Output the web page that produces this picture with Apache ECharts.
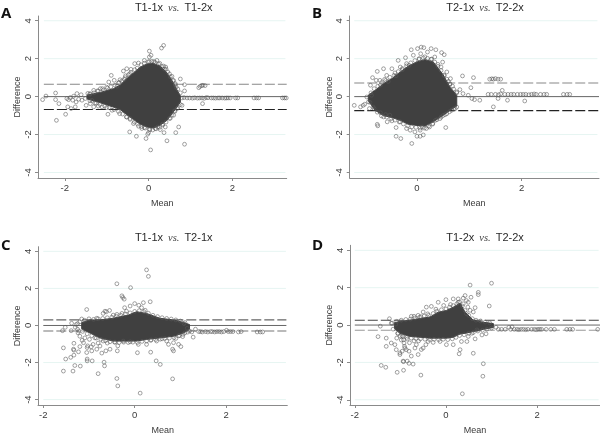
<!DOCTYPE html>
<html><head><meta charset="utf-8">
<style>html,body{margin:0;padding:0;background:#fff}#c{width:600px;height:436px}</style>
<script src="https://cdn.jsdelivr.net/npm/echarts@6/dist/echarts.min.js"></script>
</head><body><div id="c"></div>
<script>
const xTicks=[-2,0,2];
const yTicks=[-4,-2,0,2,4];
const gridValues=[-4,-2,2,4];
const titles=[['T1-1x','T1-2x'],['T2-1x','T2-2x'],['T1-1x','T2-1x'],['T1-2x','T2-2x']];
const letters=['A','B','C','D'];
const refLines=[[0.65,-0.68],[0.72,-0.74],[0.30,-0.30],[0.26,-0.28]];
const refSpan=[[-2.5,3.3],[-1.2,3.48],[-2,3.32],[-2,3.38]];
const coreA=[[-1.47,.08,-.12],[-1.15,.22,-.32],[-.84,.42,-.55],[-.68,.6,-.68],[-.52,.95,-.95],[-.36,1.25,-1.2],[-.2,1.55,-1.45],[-.04,1.72,-1.6],[.12,1.75,-1.65],[.28,1.6,-1.5],[.44,1.25,-1.25],[.56,.85,-.9],[.68,.35,-.55],[.76,.05,-.3]];
const coreB=[[-.93,.08,-.22],[-.8,.33,-.72],[-.64,.68,-1.0],[-.48,.95,-1.1],[-.32,1.3,-1.25],[-.17,1.6,-1.45],[0,1.83,-1.52],[.15,1.95,-1.55],[.31,1.83,-1.33],[.5,1.15,-.98],[.63,.5,-.72],[.76,.07,-.5]];
const coreC=[[-1.16,.15,-.18],[-.98,.3,-.4],[-.76,.3,-.67],[-.47,.39,-.84],[-.14,.56,-.84],[.04,.74,-.84],[.26,.65,-.75],[.55,.39,-.67],[.85,.3,-.58],[1.07,.16,-.4],[1.2,.05,-.2]];
const coreD=[[-1.13,.12,-.18],[-1.01,.2,-.44],[-.79,.26,-.61],[-.57,.35,-.65],[-.35,.43,-.7],[-.17,.69,-.7],[.01,.78,-.7],[.16,.96,-.65],[.31,1.17,-.48],[.42,.69,-.44],[.6,.26,-.35],[.82,.15,-.23],[1.04,.08,-.13]];
const edgeA=[[-1.4,.16],[-1.3,.2],[-1.2,.3],[-1.08,.34],[-.98,.45],[-.9,.52],[-.8,.6],[-.72,.72],[-.64,.82],[-.56,1.0],[-.48,1.15],[-.42,1.28],[-.33,1.42],[-.27,1.5],[-.18,1.68],[-.1,1.76],[-.01,1.83],[.08,1.86],[.16,1.8],[.24,1.72],[.32,1.58],[.38,1.45],[.46,1.3],[.52,1.05],[.58,.85],[.64,.62],[.7,.4],[.76,.2],[-1.4,-.22],[-1.28,-.34],[-1.16,-.42],[-1.05,-.5],[-.94,-.58],[-.82,-.68],[-.72,-.78],[-.62,-.92],[-.52,-1.08],[-.44,-1.2],[-.34,-1.34],[-.26,-1.45],[-.17,-1.58],[-.08,-1.66],[.02,-1.72],[.1,-1.76],[.18,-1.7],[.26,-1.62],[.34,-1.5],[.42,-1.34],[.5,-1.15],[.56,-.98],[.63,-.78],[.7,-.6],[.76,-.42]];
const edgeB=[[-.88,.2],[-.82,.42],[-.75,.55],[-.68,.74],[-.6,.85],[-.52,1.02],[-.44,1.12],[-.36,1.32],[-.28,1.48],[-.2,1.62],[-.12,1.78],[-.04,1.9],[.04,1.98],[.12,2.04],[.2,2.02],[.27,1.97],[.34,1.82],[.4,1.6],[.46,1.38],[.52,1.14],[.57,.92],[.63,.65],[.7,.4],[.76,.2],[-.9,-.3],[-.84,-.55],[-.76,-.82],[-.68,-1.02],[-.58,-1.08],[-.5,-1.18],[-.42,-1.24],[-.34,-1.34],[-.26,-1.44],[-.18,-1.54],[-.1,-1.6],[-.02,-1.62],[.06,-1.66],[.14,-1.66],[.22,-1.55],[.3,-1.42],[.38,-1.22],[.46,-1.08],[.54,-.95],[.62,-.8],[.7,-.65],[.76,-.55]];
const edgeC=[[-1.28,.05],[-1.2,.2],[-1.1,.28],[-1,.36],[-.9,.33],[-.8,.36],[-.7,.38],[-.6,.42],[-.5,.45],[-.4,.5],[-.3,.55],[-.2,.62],[-.1,.68],[0,.76],[.1,.8],[.2,.75],[.3,.66],[.4,.55],[.5,.48],[.6,.42],[.7,.38],[.8,.35],[.9,.3],[1,.24],[1.1,.16],[-1.25,-.2],[-1.14,-.32],[-1.04,-.45],[-.94,-.55],[-.84,-.68],[-.74,-.75],[-.64,-.82],[-.54,-.88],[-.44,-.9],[-.34,-.92],[-.24,-.9],[-.14,-.92],[-.04,-.9],[.06,-.92],[.16,-.86],[.26,-.84],[.36,-.78],[.46,-.76],[.56,-.74],[.66,-.7],[.76,-.68],[.86,-.66],[.96,-.56],[1.06,-.48],[1.16,-.36]];
const edgeD=[[-1.18,.1],[-1.08,.2],[-.98,.26],[-.88,.3],[-.78,.32],[-.68,.38],[-.58,.42],[-.48,.48],[-.38,.52],[-.28,.62],[-.2,.74],[-.1,.82],[0,.86],[.08,.96],[.16,1.04],[.24,1.14],[.3,1.24],[.36,1.02],[.42,.78],[.5,.52],[.58,.34],[.66,.26],[.76,.22],[.86,.16],[.96,.12],[-1.16,-.22],[-1.06,-.44],[-.96,-.58],[-.86,-.66],[-.76,-.7],[-.66,-.72],[-.56,-.74],[-.46,-.76],[-.36,-.78],[-.26,-.76],[-.16,-.78],[-.06,-.76],[.04,-.78],[.14,-.74],[.22,-.66],[.3,-.56],[.4,-.52],[.5,-.44],[.6,-.4],[.7,-.32],[.8,-.28],[.9,-.22],[1,-.16]];
const pointsA=[[.36,2.7],[.31,2.56],[.02,2.4],[.06,2.18],[.02,2.09],[-.1,1.91],[-.24,1.77],[-.33,1.74],[.2,1.91],[.36,1.61],[.41,1.56],[-.52,1.47],[-.42,1.44],[-.6,1.35],[-.89,1.12],[-.82,.86],[-.95,.77],[-.68,.89],[-.58,.91],[.76,.93],[.56,1.07],[.64,.68],[.86,.63],[.86,.3],[1.2,.47],[1.23,.54],[1.27,.58],[1.3,.6],[1.35,.58],[1.29,-.37],[.02,1.85],[.13,1.85],[.27,1.75],[.42,1.45],[.5,1.2],[.6,.85],[.66,.5],[-.45,1.2],[-.55,1.1],[-.7,.75],[-.75,.55],[-1.0,.5],[-1.1,.42],[-1.22,.3],[-1.31,.33],[-1.15,.42],
[.8,-.07],[.85,-.05],[.92,-.07],[.98,-.07],[1.05,-.08],[1.1,-.06],[1.17,-.08],[1.22,-.07],[1.28,-.07],[1.33,-.09],[1.38,-.05],[1.42,-.06],[1.5,-.07],[1.55,-.07],[1.6,-.08],[1.66,-.07],[1.7,-.07],[1.76,-.07],[1.82,-.08],[1.86,-.07],[1.9,-.07],[1.95,-.07],[2.08,-.07],[2.13,-.07],[2.52,-.07],[2.58,-.07],[2.63,-.07],[3.2,-.07],[3.25,-.07],[3.29,-.07],
[-2.2,-1.25],[-1.98,-.93],[-2.53,-.16],[-2.45,.03],[-2.22,.19],[-2.22,-.16],[-2.14,-.37],[-1.95,-.1],[-1.91,-.16],[-1.87,-.05],[-1.93,-.54],[-1.85,-.63],[-1.75,-.54],[-1.79,.02],[-1.71,.16],[-1.61,.1],[-1.81,-.19],[-1.73,-.28],[-1.67,-.14],[-1.59,-.19],[-1.51,-.1],[-1.49,-.46],[-1.39,-.37],[-1.31,-.54],[-1.2,-.5],[-1.11,-.54],[-1,-.58],[-.97,-.93],[-.87,-.72],[-.69,-.9],[-.53,-1.07],[-.45,-1.86],[-.29,-2.09],[-.06,-2.21],[-.02,-1.98],[0,-1.9],[.05,-2.81],[.44,-2.33],[.37,-1.9],[.65,-1.9],[.72,-1.6],[.86,-2.51],[-.36,-1.42],[-.24,-1.56],[-.16,-1.68],[.16,-1.68],[.28,-1.74],[.4,-1.6],[.52,-1.14],[.6,-.98],[.68,-.63],[.8,-.46],[-.44,-1.15],[-.1,-1.63],[.03,-1.75],[.22,-1.6],[.33,-1.45],[.62,-.75],[-1.4,.12],[-1.45,.17],[-1.35,-.2],[-1.25,-.35]];
const pointsB=[[.08,2.61],[.13,2.58],[.01,2.53],[.27,2.53],[.36,2.47],[.47,2.32],[.52,2.21],[-.11,2.47],[-.22,2.05],[-.36,1.91],[-.64,1.47],[-.76,1.33],[-.48,1.47],[-.85,1.0],[-.89,.6],[-.78,.86],[-.71,.86],[-.62,.91],[-.58,1.12],[-.42,1.25],[-.32,1.56],[-.2,1.74],[.34,2.09],[-.07,2.18],[.07,2.26],[.2,2.35],[.49,1.82],[.46,1.56],[.57,1.3],[.64,.95],[.63,.68],[.87,1.09],[1.08,1.0],[1.03,.47],[1.39,.92],[1.43,.94],[1.46,.92],[1.5,.95],[1.55,.92],[1.6,.92],[1.63,.33],[.82,.37],[.76,.25],[.88,.16],[.98,.07],[1.05,-.1],[1.2,-.19],[1.1,-.16],[1.46,-.54],[1.73,-.19],[2.06,-.23],[1.55,-.1],[.04,2.0],[.15,2.1],[.28,1.98],[.4,1.7],[.52,1.1],[.6,.8],[.68,.55],[-.15,1.65],[-.28,1.42],[-.4,1.1],[-.55,.8],[-.7,.6],
[1.36,.12],[1.42,.12],[1.5,.12],[1.56,.1],[1.6,.14],[1.68,.12],[1.74,.12],[1.8,.12],[1.85,.12],[1.92,.12],[1.98,.12],[2.03,.12],[2.08,.12],[2.14,.1],[2.19,.12],[2.24,.14],[2.28,.12],[2.36,.12],[2.43,.12],[2.48,.12],[2.8,.12],[2.87,.12],[2.92,.12],
[-1.2,-.46],[-1.08,-.54],[-1.03,-.46],[-1,-.4],[-.93,-.28],[-.96,-.02],[-.87,.07],[-.91,-.63],[-.82,-.63],[-.76,-1.46],[-.75,-1.54],[-.57,-1.33],[-.48,-1.28],[-.4,-1.63],[-.4,-2.09],[-.31,-2.21],[-.1,-2.47],[-.13,-1.77],[-.04,-1.86],[0,-2.09],[.06,-2.09],[.12,-2.02],[.55,-1.63],[.24,-1.6],[.35,-1.25],[.44,-1.16],[.57,-.9],[.66,-.72],[.73,-.63],[-.64,-1.07],[-.52,-.98],[-.32,-1.33],[-.2,-1.68],[.06,-1.77],[.18,-1.68],[-.7,-.85],[-.6,-.95],[.1,-1.6],[.3,-1.45],[.5,-1.0]];
const pointsC=[[.26,3],[.3,2.65],[-.39,2.25],[-.09,2.04],[-.28,1.6],[-.26,1.51],[-.23,1.42],[.34,1.28],[.19,1.23],[0,1.18],[-.1,1.05],[-.22,.96],[-1.05,.86],[.09,1.09],[.15,.96],[.23,.82],[-.69,.65],[-.62,.74],[-.55,.81],[-.65,.77],[-.47,.56],[-.39,.6],[-.28,.65],[-.18,.77],[-1.16,.35],[-.83,.39],[-1.38,.12],[-1.52,-.1],[-1.58,-.28],[-1.39,-.28],[-1.56,-1.21],[-1.33,-.96],[-1.34,-1.28],[-1.33,-1.33],[-1.51,-1.81],[-1.4,-1.72],[-1.33,-1.6],[-1.23,-1.42],[-1.2,-1.14],[-1.31,-2.16],[-1.19,-2.19],[-1.56,-2.46],[-1.35,-2.46],[-1.04,-1.81],[-1.04,-1.91],[-.93,-1.91],[-.8,-2.6],[-.67,-1.98],[-.66,-2.18],[-.39,-2.86],[-.37,-3.26],[.12,-3.65],[.83,-2.88],[.47,-1.91],[.56,-2.1],[.06,-1.47],[.35,-1.44],[-.38,-1.37],[-.37,-1.1],[.83,-1.28],[.85,-1.37],[.96,-1.02],[1.01,-1.14],[.74,-1.02],[.7,-.84],[.85,-.93],[.48,-.84],[.26,-1.02],[.08,-1.02],[-.1,-.88],[-.25,-.84],[-.43,-.9],[-.54,-1.28],[-.63,-1.37],[-.72,-1.49],[-.83,-1.28],[-.94,-1.37],[-1.05,-1.46],[-1.04,-1.19],[-1.12,-.93],[-1.2,-.58],[-1.24,-.4],[-.91,-1.02],[-.76,-1.11],[-.69,-.84],[-.99,-.75],[-1.09,-.67],[-.87,-.67],[-1.03,-1.1],[-.8,-.95],[-.95,-1.15],[-.6,-.95],[-1.15,-.8],[-1.22,-.3],[-1.3,-.1],[-1.25,.1],[1.08,.1],[1.15,-.15],[1.2,-.3],[1.1,-.4],[1.25,-.35],[.98,-.55],[1.05,-.6],[.9,-.7],[.6,-.72],[.35,-.8],
[1.28,-.63],[1.33,-.2],[1.4,-.33],[1.44,-.33],[1.48,-.35],[1.55,-.33],[1.6,-.35],[1.66,-.33],[1.7,-.33],[1.75,-.35],[1.8,-.33],[1.85,-.33],[1.9,-.35],[1.95,-.33],[2.01,-.26],[2.05,-.33],[2.1,-.33],[2.15,-.33],[2.27,-.35],[2.33,-.33],[2.68,-.35],[2.75,-.35],[2.8,-.35]];
const pointsD=[[1,2.24],[.53,2.14],[.71,1.75],[.71,1.63],[.95,1.02],[.42,1.58],[.38,1.44],[.55,1.49],[.27,1.4],[.16,1.4],[0,1.36],[-.17,1.22],[-.32,1],[-.43,.96],[-.5,.7],[-.61,.52],[-.76,.47],[-.7,.47],[-1.24,.34],[-1.44,-.06],[-1.49,-.62],[-1.31,-.7],[-1.31,-1.14],[-1.2,-.96],[-1.12,-1.05],[-1.09,-1.32],[-1.01,-1.49],[-1.01,-1.58],[-.94,-.62],[-.93,-.79],[-.92,-.96],[-.91,-1.14],[-.9,-1.23],[-.96,-1.4],[-.81,-1.4],[-.87,-1.32],[-.68,-1.23],[-.76,-1.66],[-.65,-1.05],[-.54,-1.31],[-.61,-1.58],[-.44,-1.05],[-.5,-1.23],[-.39,-.88],[-1.42,-2.16],[-1.32,-2.26],[-1.07,-2.53],[-.93,-2.42],[-.94,-1.93],[-.93,-1.96],[-.85,-1.93],[-.81,-2.05],[-.72,-2.09],[-.55,-2.68],[.36,-3.68],[.81,-2.74],[.82,-2.07],[.6,-1.51],[.29,-1.54],[.31,-1.32],[.34,-.88],[.16,-1.05],[.01,-1.05],[-.13,-.88],[-.28,-.93],[.64,-.74],[.79,-.53],[.88,-.47],[.49,-.61],[.57,-.44],[.68,-.26],[.46,-.88],[.48,.96],[.53,.79],[.64,.93],[.6,.7],[.45,.61],[.38,1.14],[.45,1.31],[.49,1.22],[.27,1.22],[.1,1.1],[-.05,1.05],[-.22,.85],[-.4,.6],[-.55,.45],[-1.1,.05],[-1.2,.1],[-1.05,-.45],[-1.0,-.6],[-.98,-.8],[-1.08,-.7],[-.85,-.75],[-.8,-.95],[-.7,-.85],[-.6,-.85],
[1.1,-.12],[1.15,-.23],[1.22,-.23],[1.3,-.23],[1.38,-.12],[1.42,-.23],[1.45,-.1],[1.5,-.23],[1.56,-.23],[1.6,-.25],[1.65,-.23],[1.7,-.23],[1.75,-.25],[1.8,-.23],[1.88,-.23],[1.94,-.23],[1.98,-.25],[2.02,-.23],[2.06,-.23],[2.1,-.23],[2.2,-.23],[2.3,-.23],[2.38,-.23],[2.65,-.23],[2.72,-.23],[2.78,-.23],[3.33,-.23]];
const cores=[coreA,coreB,coreC,coreD];
const points=[pointsA.concat(edgeA),pointsB.concat(edgeB),pointsC.concat(edgeC),pointsD.concat(edgeD)];
const grids=[
 {left:38,top:16,width:248.7,height:162,xr:[-2.64,3.3],yr:[-4.29,4.25]},
 {left:349.7,top:16,width:249.3,height:162,xr:[-1.287,3.48],yr:[-4.29,4.25]},
 {left:38,top:246.7,width:249.3,height:161.6,xr:[-2.116,3.34],yr:[-4.29,4.25]},
 {left:350,top:245.3,width:250,height:163,xr:[-2.105,3.38],yr:[-4.28,4.27]}];
const titlePos=[[173.7,-1],[485,-1],[173.7,229],[485,229]];
const letterPos=[[1,6],[312,6],[1,238],[312,238]];
const txt='#3a3a3a',ax='#8a8a8a';
const rich={a:{fontFamily:'Liberation Sans',fontWeight:'normal',fontSize:11,color:'#2a2a2a'},v:{fontFamily:'Liberation Serif',fontStyle:'italic',fontWeight:'normal',fontSize:10.5,color:'#444'}};
const opt={animation:false,backgroundColor:'#fff',grid:[],xAxis:[],yAxis:[],title:[],series:[]};
grids.forEach((g,i)=>{
 opt.grid.push({left:g.left,top:g.top,width:g.width,height:g.height,containLabel:false});
 opt.title.push({text:`{a|${titles[i][0]}} {v|vs.} {a|${titles[i][1]}}`,left:titlePos[i][0],top:titlePos[i][1],textAlign:'center',padding:0,textStyle:{fontWeight:'normal',rich}});
 opt.title.push({text:letters[i],left:letterPos[i][0],top:letterPos[i][1],padding:0,textStyle:{fontFamily:'Open Sans',fontWeight:'bold',fontSize:15,color:'#111'}});
 opt.xAxis.push({type:'value',gridIndex:i,min:g.xr[0],max:g.xr[1],name:'Mean',nameLocation:'middle',nameGap:21,
  nameTextStyle:{fontFamily:'Liberation Sans',fontSize:9,color:txt},
  axisLine:{onZero:false,lineStyle:{color:ax,width:1}},
  axisTick:{customValues:xTicks,length:3,lineStyle:{color:ax}},
  axisLabel:{customValues:xTicks,margin:5,fontFamily:'Liberation Sans',fontSize:9.5,color:txt},splitLine:{show:false}});
 opt.yAxis.push({type:'value',gridIndex:i,min:g.yr[0],max:g.yr[1],name:'Difference',nameLocation:'middle',nameGap:15,
  nameTextStyle:{fontFamily:'Liberation Sans',fontSize:9,color:txt},
  axisLine:{onZero:false,lineStyle:{color:ax,width:1}},
  axisTick:{customValues:yTicks,length:3,lineStyle:{color:ax}},
  axisLabel:{customValues:yTicks,rotate:90,margin:5,fontFamily:'Liberation Sans',fontSize:9.5,color:txt},splitLine:{show:false}});
 const base={xAxisIndex:i,yAxisIndex:i,silent:true};
 gridValues.forEach(v=>opt.series.push({...base,type:'line',symbol:'none',z:1,lineStyle:{color:'#e6f5f2',width:1},data:[[refSpan[i][0],v],[g.xr[1]-0.03,v]]}));
 opt.series.push({...base,type:'line',symbol:'none',z:1,lineStyle:{color:'#666',width:1},data:[[refSpan[i][0],0],[refSpan[i][1],0]]});
 const cols=[['#888','#222'],['#888','#222'],['#666','#777'],['#444','#999']][i];
 refLines[i].forEach((v,k)=>opt.series.push({...base,type:'line',symbol:'none',z:1,lineStyle:{color:cols[k],width:1.1,type:[10,3]},data:[[refSpan[i][0],v],[refSpan[i][1],v]]}));
 opt.series.push({...base,type:'custom',z:2,clip:false,data:cores[i],encode:{x:0,y:1},renderItem:(p,api)=>{
  if(p.dataIndex!==0)return null;
  const c=cores[i];
  const pts=c.map(r=>api.coord([r[0],r[1]])).concat(c.slice().reverse().map(r=>api.coord([r[0],r[2]])));
  return {type:'polygon',shape:{points:pts},style:{fill:'#404040',stroke:'#404040',lineWidth:1}};
 }});
 opt.series.push({...base,type:'scatter',z:3,symbol:'circle',symbolSize:3.8,itemStyle:{color:'rgba(255,255,255,0)',borderColor:'#585858',borderWidth:0.7},data:points[i]});
});
echarts.init(document.getElementById('c'),null,{renderer:'canvas'}).setOption(opt);
</script></body></html>
